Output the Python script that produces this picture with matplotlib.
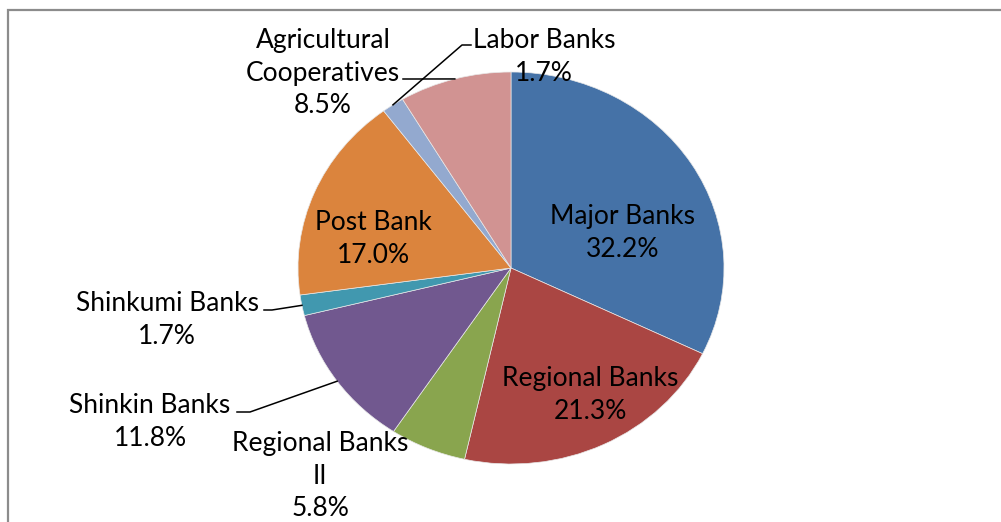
""" Share of deposits by type of institution """
import numpy as np
from matplotlib import pyplot as plt
from matplotlib import patches

# Slices, clockwise from 12 o'clock
names = ['Major Banks', 'Regional Banks', 'Regional Banks\nII', 'Shinkin Banks',
         'Shinkumi Banks', 'Post Bank', 'Labor Banks', 'Agricultural\nCooperatives']
shares = [32.2, 21.3, 5.8, 11.8, 1.7, 17.0, 1.7, 8.5]
colors = ['#4572A7', '#AA4643', '#89A54E', '#71588F',
          '#4198AF', '#DB843D', '#93A9CF', '#D19392']

W, H = 1001, 522
CX, CY = 511, 268      # pie centre, pixels from top-left
RX, RY = 213, 196      # pie is drawn slightly squashed

# label centre (pixels) and whether a leader line is drawn
label_pos = {
    'Major Banks': ((623, 233), False),
    'Regional Banks': ((590, 395), False),
    'Regional Banks\nII': ((320, 476), False),
    'Shinkin Banks': ((150, 422), True),
    'Shinkumi Banks': ((167, 320), True),
    'Post Bank': ((373, 239), False),
    'Labor Banks': ((544, 57), True),
    'Agricultural\nCooperatives': ((323, 73), True),
}
# where the leader leaves the text (pixels)
leader_start = {
    'Shinkin Banks': [(237, 412), (250, 412)],
    'Shinkumi Banks': [(264, 310), (272, 310)],
    'Labor Banks': [(471, 45), (462, 45)],
    'Agricultural\nCooperatives': [(403, 79), (412, 79)],
}


def px2data(px, py):
    return (px - CX) / RX, (CY - py) / RY


plt.rcParams['font.family'] = ['Lato', 'DejaVu Sans']

fig = plt.figure(figsize=(W / 100, H / 100), dpi=100)
ax = fig.add_axes([0, 0, 1, 1])

wedges, _ = ax.pie(shares, colors=colors, startangle=90, counterclock=False,
                   radius=1., wedgeprops=dict(edgecolor='#e8e8e8', linewidth=0.5))
ax.set_aspect('auto')
ax.set_xlim(-CX / RX, (W - CX) / RX)
ax.set_ylim(-(H - CY) / RY, CY / RY)
ax.axis('off')

for ww, name, val in zip(wedges, names, shares):
    (lx, ly), leader = label_pos[name]
    tx, ty = px2data(lx, ly)
    ax.text(tx, ty, f'{name}\n{val:0.1f}%', ha='center', va='center',
            fontsize=19, linespacing=1.37, color='k')
    if leader:
        ang = np.deg2rad(0.5 * (ww.theta1 + ww.theta2))
        pts = [px2data(*p) for p in leader_start[name]]
        xs = [p[0] for p in pts] + [np.cos(ang)]
        ys = [p[1] for p in pts] + [np.sin(ang)]
        ax.plot(xs, ys, color='k', lw=1.1)

# Chart frame (runs off the right and bottom)
fig.patches.append(patches.Rectangle((7.5 / W, -0.1), 1.2, (H - 9.5) / H + 0.1,
                                     transform=fig.transFigure, fill=False,
                                     edgecolor='#8c8c8c', lw=1.6))

plt.savefig('out.png', dpi=100)
print('Saved out.png')
